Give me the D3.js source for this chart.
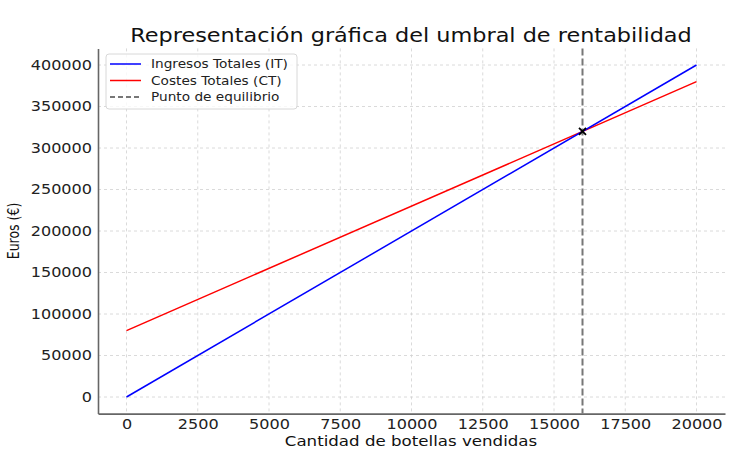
<!DOCTYPE html>
<html>
<head>
<meta charset="utf-8">
<script src="https://d3js.org/d3.v7.min.js"></script>
<style>
  body { margin: 0; background: #fff; }
  text { font-family: "DejaVu Sans", sans-serif; }
</style>
</head>
<body>
<svg width="741" height="454"></svg>
<script>
var cantidades = [0, 20000];
var ingresos = [0, 400000];
var costes = [80000, 380000];
var equilibrio = [16000, 320000];
var xTicks = [0, 2500, 5000, 7500, 10000, 12500, 15000, 17500, 20000];
var yTicks = [0, 50000, 100000, 150000, 200000, 250000, 300000, 350000, 400000];

var svg = d3.select("svg");
var pLeft = 98, pRight = 725, pTop = 48.4, pBottom = 413.6;
var SX = 1.19; // the reference text is stretched sideways

var x = d3.scaleLinear().domain([-1000, 21000]).range([pLeft, pRight]);
var y = d3.scaleLinear().domain([-20000, 420000]).range([pBottom, pTop]);

// text placed at (px,py), widened by SX
function label(px, py, str, size, anchor) {
  return svg.append("text")
    .attr("transform", "translate(" + px + "," + py + ") scale(" + SX + ",1)")
    .attr("text-anchor", anchor || "middle").attr("font-size", size)
    .attr("fill", "#111").text(str);
}

// grid
var grid = svg.append("g");
grid.selectAll(".gx").data(xTicks).enter().append("line")
  .attr("x1", d => x(d)).attr("x2", d => x(d))
  .attr("y1", pTop).attr("y2", pBottom)
  .attr("stroke", "#d0d0d0").attr("stroke-width", 0.8).attr("stroke-dasharray", "3,3");
grid.selectAll(".gy").data(yTicks).enter().append("line")
  .attr("y1", d => y(d)).attr("y2", d => y(d))
  .attr("x1", pLeft).attr("x2", pRight)
  .attr("stroke", "#d0d0d0").attr("stroke-width", 0.8).attr("stroke-dasharray", "3,3");

// axes
var xAxis = svg.append("g").attr("transform", "translate(0," + pBottom + ")")
  .call(d3.axisBottom(x).tickValues(xTicks).tickSize(0).tickPadding(3).tickFormat(d3.format("d")));
var yAxis = svg.append("g").attr("transform", "translate(" + pLeft + ",0)")
  .call(d3.axisLeft(y).tickValues(yTicks).tickSize(0).tickPadding(0).tickFormat(d3.format("d")));
[xAxis, yAxis].forEach(function (a) {
  a.select(".domain").attr("stroke", "#666").attr("stroke-width", 1.6);
  a.selectAll("text").attr("font-size", 13.5).attr("fill", "#222")
    .style("font-family", "DejaVu Sans, sans-serif");
});
xAxis.selectAll("text").attr("transform", "scale(" + SX + ",1)").attr("dy", "0.9em");
yAxis.selectAll("text").attr("x", 0).attr("transform", "translate(-6,0) scale(" + SX + ",1)");

// lines
var line = d3.line().x(d => x(d[0])).y(d => y(d[1]));
svg.append("path").datum(d3.zip(cantidades, costes)).attr("d", line)
  .attr("fill", "none").attr("stroke", "#ff0000").attr("stroke-width", 1.5);
svg.append("path").datum(d3.zip(cantidades, ingresos)).attr("d", line)
  .attr("fill", "none").attr("stroke", "#0000ff").attr("stroke-width", 1.5);

// break-even vertical
svg.append("line")
  .attr("x1", x(equilibrio[0])).attr("x2", x(equilibrio[0]))
  .attr("y1", pTop).attr("y2", pBottom)
  .attr("stroke", "#777").attr("stroke-width", 2).attr("stroke-dasharray", "7,3");

// marker x
var px = x(equilibrio[0]), py = y(equilibrio[1]), s = 3.5;
svg.append("path")
  .attr("d", "M" + (px - s) + "," + (py - s) + "L" + (px + s) + "," + (py + s) +
             "M" + (px - s) + "," + (py + s) + "L" + (px + s) + "," + (py - s))
  .attr("stroke", "#000").attr("stroke-width", 1.8);

// title and axis labels
label(411, 42, "Representación gráfica del umbral de rentabilidad", 18.8);
label(411, 446, "Cantidad de botellas vendidas", 14);
svg.append("text")
  .attr("transform", "translate(19," + ((pTop + pBottom) / 2) + ") rotate(-90) scale(1,1.2)")
  .attr("text-anchor", "middle").attr("font-size", 12.5).attr("fill", "#111")
  .text("Euros (€)");

// legend
var legendItems = [
  { label: "Ingresos Totales (IT)", color: "#0000ff", dash: null },
  { label: "Costes Totales (CT)", color: "#ff0000", dash: null },
  { label: "Punto de equilibrio", color: "#777", dash: "5,3" }
];
var lg = svg.append("g").attr("transform", "translate(106,54)");
lg.append("rect").attr("width", 191).attr("height", 55).attr("rx", 3)
  .attr("fill", "#fff").attr("fill-opacity", 0.8).attr("stroke", "#d8d8d8");
legendItems.forEach(function (d, i) {
  var yy = 10 + i * 16.5;
  lg.append("line").attr("x1", 4).attr("x2", 35).attr("y1", yy).attr("y2", yy)
    .attr("stroke", d.color).attr("stroke-width", d.dash ? 2 : 1.5)
    .attr("stroke-dasharray", d.dash);
  lg.append("text").attr("transform", "translate(45," + (yy + 4) + ") scale(" + SX + ",1)")
    .attr("font-size", 11.5).attr("fill", "#222").text(d.label);
});
</script>
</body>
</html>
